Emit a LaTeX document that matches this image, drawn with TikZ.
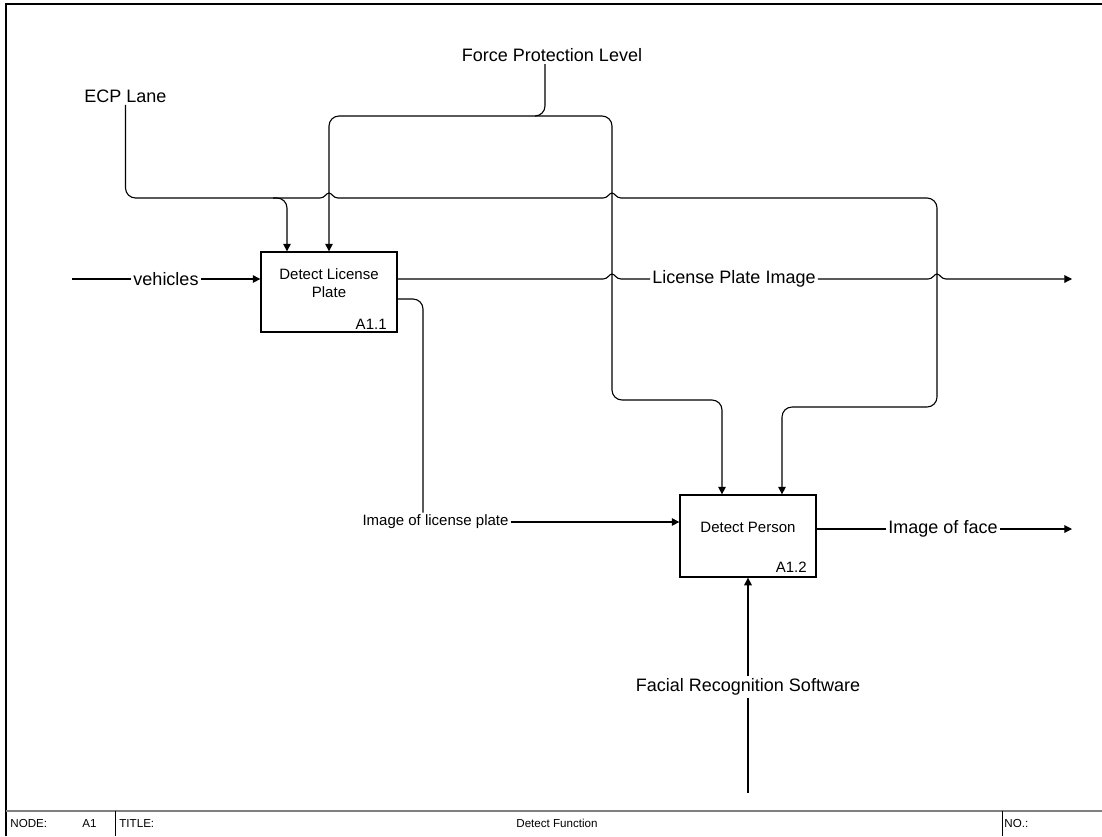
\documentclass[tikz,border=0pt]{standalone}
\usepackage{fontspec}
\setmainfont{Liberation Sans}
\usetikzlibrary{arrows.meta,calc}
\begin{document}
\begin{tikzpicture}[x=0.5pt,y=-0.5pt,
  conn/.style={line width=0.55pt, rounded corners=5pt},
  arr/.style={-{Triangle[length=3.8pt,width=3.8pt]}},
  box/.style={draw, line width=0.65pt, minimum width=68pt, inner sep=0pt},
  big/.style={font=\fontsize{9}{10.5}\selectfont, inner sep=1pt},
  small/.style={font=\fontsize{7.5}{8.85}\selectfont, inner sep=1pt},
  bar/.style={font=\fontsize{5.8}{7}\selectfont, inner sep=0pt},
  hump/.style 2 args={insert path={[sharp corners] -- ({#1-9},{#2}) .. controls ({#1-4},{#2}) and ({#1-3},{#2-5}) .. ({#1},{#2-5}) .. controls ({#1+3},{#2-5}) and ({#1+4},{#2}) .. ({#1+9},{#2}) [rounded corners=5pt]}}]
\useasboundingbox (0,0) rectangle (1102,836);
\fill[white] (0,0) rectangle (1102,836);
% frame
\draw[line width=0.75pt] (6,836) -- (6,4) -- (1102,4);
\draw[line width=1pt, color={rgb,255:red,128;green,128;blue,128}] (6,811) -- (1102,811);
\draw[line width=0.5pt] (115,811) -- (115,836);
\draw[line width=0.5pt] (1002,811) -- (1002,836);
\node[bar, anchor=west] (nodelbl) at (10,823) {NODE:};
\node[bar, anchor=west] (nodeval) at (82,823) {A1};
\node[bar, anchor=west] (titlelbl) at (119,823) {TITLE:};
\node[bar] (titleval) at (557,823) {Detect Function};
\node[bar, anchor=west] (nolbl) at (1004,823) {NO.:};
% boxes
\node[box, minimum height=40pt] (b1) at (329,292) {};
\node[small, align=center] (b1t) at (329,283) {Detect License\\Plate};
\node[small, anchor=east] (b1n) at (389,324) {A1.1};
\node[box, minimum height=41pt] (b2) at (748,536) {};
\node[small] (b2t) at (748,527) {Detect Person};
\node[small, anchor=east] (b2n) at (809,567) {A1.2};
% labels
\node[big] (ecp) at (125.5,96) {ECP Lane};
\node[big] (fpl) at (552,55) {Force Protection Level};
\node[big] (veh) at (166,279) {vehicles};
\node[big] (lpi) at (734,279) {License Plate Image};
\node[small] (iolp) at (435.5,522) {Image of license plate};
\node[big] (iof) at (943,529) {Image of face};
\node[big] (frs) at (748,687) {Facial Recognition Software};
% coordinates
\coordinate (vin) at (72,279);
\coordinate (out1) at (1072,279);
\coordinate (out2) at (1072,529);
\coordinate (fpfoot) at (545,64);
\coordinate (fpbus) at (545,116);
\coordinate (fj) at (329,116);
\coordinate (fj2) at (612,116);
\coordinate (fj3) at (612,400);
\coordinate (fj4) at (722,400);
\coordinate (ecpj) at (287,198);
\coordinate (r1) at (937,198);
\coordinate (r2) at (937,407);
\coordinate (r3) at (782,407);
\coordinate (frsfoot) at (748,793);
% vehicles
\draw[conn] (vin) -- (veh.west);
\draw[conn,arr] (veh.east) -- (veh.east -| b1.west);
% license plate image
\draw[conn] (b1.east |- lpi.west) [hump={612}{279}] -- (lpi.west);
\draw[conn,arr] (lpi.east) [hump={937}{279}] -- (out1);
% image of license plate
\draw[conn] ($(b1.east)+(0,7)$) -| ($(iolp.north)+(-12.5,0)$);
\draw[conn,arr] (iolp.east) -- (iolp.east -| b2.west);
% image of face
\draw[conn] (b2.east |- iof.west) -- (iof.west);
\draw[conn,arr] (iof.east) -- (out2);
% ECP lane
\draw[conn,arr] (ecp.south) |- (ecpj) -- (ecpj |- b1.north);
\draw[conn,arr] ($(ecpj)+(-14,0)$) [hump={329}{198}] [hump={612}{198}] -- (r1) -- (r2) -- (r3) -- (r3 |- b2.north);
% force protection level
\draw[conn,arr] (fpfoot) |- (fj) -- (fj |- b1.north);
\draw[conn,arr] ($(fpbus)+(-10,0)$) -- (fj2) -- (fj3) -- (fj4) -- (fj4 |- b2.north);
% facial recognition software
\draw[conn] (frsfoot) -- (frs.south);
\draw[conn,arr] (frs.north) -- (b2.south);
\end{tikzpicture}
\end{document}
